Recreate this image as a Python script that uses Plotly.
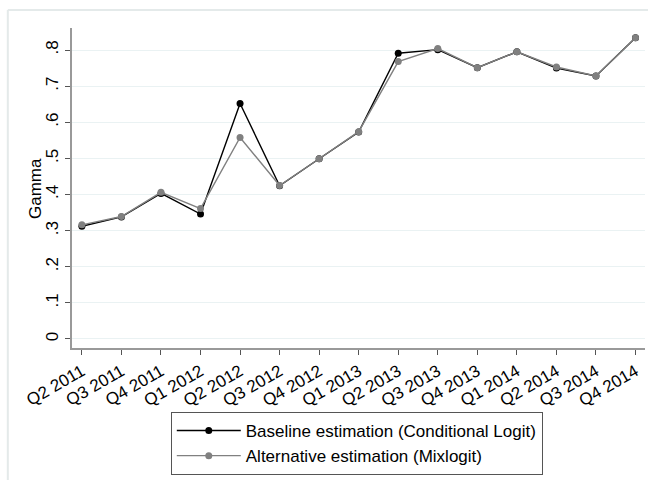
import plotly.graph_objects as go

quarters = ["Q2 2011", "Q3 2011", "Q4 2011", "Q1 2012", "Q2 2012", "Q3 2012", "Q4 2012",
            "Q1 2013", "Q2 2013", "Q3 2013", "Q4 2013", "Q1 2014", "Q2 2014", "Q3 2014", "Q4 2014"]
baseline = [0.312, 0.338, 0.403, 0.346, 0.652, 0.424, 0.499, 0.573, 0.791, 0.801,
            0.751, 0.795, 0.750, 0.728, 0.834]
alternative = [0.316, 0.339, 0.406, 0.361, 0.558, 0.425, 0.499, 0.574, 0.768, 0.804,
               0.751, 0.795, 0.753, 0.728, 0.834]
y_ticks = [0, 0.1, 0.2, 0.3, 0.4, 0.5, 0.6, 0.7, 0.8]
y_tick_labels = ["0", ".1", ".2", ".3", ".4", ".5", ".6", ".7", ".8"]

xidx = list(range(len(quarters)))

fig = go.Figure()
fig.add_trace(go.Scatter(
    x=xidx, y=baseline, mode="lines+markers",
    name="Baseline estimation (Conditional Logit)",
    line=dict(color="#000000", width=1.4),
    marker=dict(color="#000000", size=7),
    cliponaxis=False,
))
fig.add_trace(go.Scatter(
    x=xidx, y=alternative, mode="lines+markers",
    name="Alternative estimation (Mixlogit)",
    line=dict(color="#808080", width=1.4),
    marker=dict(color="#808080", size=7),
    cliponaxis=False,
))

font = "Liberation Sans, Arial, sans-serif"
fig.update_layout(
    width=648, height=480,
    margin=dict(l=72, r=3, t=28, b=132, autoexpand=False),
    paper_bgcolor="white", plot_bgcolor="white",
    font=dict(family=font, size=17, color="#000000"),
    showlegend=True,
    legend=dict(
        orientation="v", x=0.497, xanchor="center", y=-0.2, yanchor="top",
        bordercolor="#555555", borderwidth=1, bgcolor="white",
        font=dict(family=font, size=17, color="#000000"),
        itemwidth=64, tracegroupgap=0,
    ),
)
fig.update_xaxes(
    range=[-0.25, 14.24], automargin=False,
    tickmode="array", tickvals=xidx, ticktext=quarters,
    tickangle=-30, ticks="outside", ticklen=5, tickcolor="#555555",
    showline=True, linecolor="#999999", linewidth=2,
    showgrid=False, zeroline=False,
    tickfont=dict(family=font, size=17),
)
fig.update_yaxes(
    range=[-0.025, 0.861], automargin=False,
    tickmode="array", tickvals=y_ticks, ticktext=y_tick_labels,
    tickangle=-90, ticks="outside", ticklen=5, tickcolor="#555555",
    showline=True, linecolor="#999999", linewidth=2,
    showgrid=True, gridcolor="#eaf2f3", gridwidth=1, zeroline=False,
    tickfont=dict(family=font, size=17),
)
# y-axis title placed as rotated text
fig.add_annotation(
    text="Gamma", textangle=-90, xref="paper", yref="paper",
    x=-0.0646, y=0.5, xanchor="center", yanchor="middle", showarrow=False,
    font=dict(family=font, size=17, color="#000000"),
)
# outer frame (left and top edges visible)
fig.add_shape(type="line", xref="paper", yref="paper",
              x0=-0.112, x1=1.02, y0=1.056, y1=1.056,
              line=dict(color="#e4eaea", width=2))
fig.add_shape(type="line", xref="paper", yref="paper",
              x0=-0.112, x1=-0.112, y0=1.056, y1=-0.45,
              line=dict(color="#e4eaea", width=2))

fig.write_html(
    "out.html",
    config={"displayModeBar": False},
    post_script="document.body.style.margin='0';document.body.style.overflow='hidden';",
)
